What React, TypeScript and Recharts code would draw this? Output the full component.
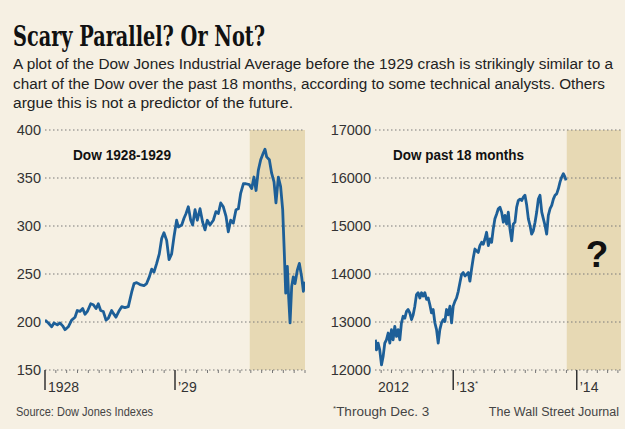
import { CartesianGrid, Line, LineChart, ReferenceArea, XAxis, YAxis } from 'recharts';

// Dow 1928-1929, months since Jan 1928
const leftMonths = [
  0, 0.31, 0.62, 0.83, 1.14, 1.38, 1.63, 1.85, 2.15, 2.46, 2.77, 2.98, 3.23, 3.48, 3.69, 3.91, 4.22, 4.46,
  4.71, 4.92, 5.14, 5.38, 5.63, 5.85, 6.15, 6.31, 6.55, 6.86, 7.08, 7.38, 7.69, 8.0, 8.22, 8.46, 8.77, 9.14,
  9.38, 9.63, 9.85, 10.06, 10.31, 10.55, 10.77, 10.98, 11.23, 11.45, 11.69, 11.91, 12.15, 12.31, 12.62,
  12.83, 13.02, 13.23, 13.45, 13.63, 13.85, 14.06, 14.31, 14.55, 14.77, 14.98, 15.23, 15.54, 15.78, 16.0,
  16.22, 16.46, 16.71, 16.92, 17.14, 17.38, 17.63, 17.85, 18.06, 18.31, 18.55, 18.86, 19.08, 19.29, 19.48,
  19.69, 19.91, 20.15, 20.31, 20.46, 20.71, 20.92, 21.14, 21.32, 21.54, 21.75, 21.94, 22.09, 22.22, 22.37,
  22.49, 22.62, 22.77, 22.92, 23.08, 23.29, 23.48, 23.69, 23.85, 24.0,
];
const leftValues = [
  202, 199, 195, 199, 197, 199, 196, 192, 195, 202, 205, 212, 211, 214, 208, 211, 219, 218, 214, 219,
  212, 211, 202, 204, 212, 209, 205, 212, 216, 215, 216, 231, 240, 241, 239, 238, 240, 247, 255, 252,
  261, 271, 287, 293, 285, 265, 271, 289, 306, 299, 301, 308, 313, 320, 306, 301, 317, 306, 318, 304,
  296, 306, 301, 306, 315, 313, 324, 320, 310, 294, 306, 303, 317, 318, 334, 344, 344, 343, 339, 351,
  337, 358, 369, 376, 380, 372, 369, 355, 346, 324, 351, 341, 317, 272, 230, 258, 226, 199, 237, 247,
  240, 254, 261, 247, 232, 242,
];

// Dow past 18 months, months since Jan 2012
const rightMonths = [
  4.44, 4.54, 4.7, 4.86, 5.03, 5.19, 5.35, 5.51, 5.68, 5.84, 6.0, 6.16, 6.32, 6.49, 6.65, 6.81, 6.97, 7.13,
  7.3, 7.46, 7.62, 7.78, 7.95, 8.11, 8.27, 8.43, 8.59, 8.76, 8.92, 9.08, 9.24, 9.41, 9.57, 9.73, 9.89,
  10.05, 10.22, 10.38, 10.54, 10.7, 10.86, 11.03, 11.19, 11.35, 11.51, 11.68, 11.84, 12.0, 12.16, 12.32,
  12.49, 12.65, 12.81, 12.97, 13.14, 13.3, 13.46, 13.62, 13.78, 13.95, 14.11, 14.27, 14.43, 14.59, 14.76,
  14.92, 15.08, 15.24, 15.41, 15.57, 15.73, 15.89, 16.05, 16.22, 16.38, 16.54, 16.7, 16.87, 17.03, 17.19,
  17.35, 17.51, 17.68, 17.84, 18.0, 18.16, 18.32, 18.49, 18.65, 18.81, 18.97, 19.14, 19.3, 19.46, 19.62,
  19.78, 19.95, 20.11, 20.27, 20.43, 20.6, 20.76, 20.92, 21.08, 21.24, 21.41, 21.57, 21.73, 21.89, 22.05,
  22.22, 22.38, 22.54, 22.7, 22.86, 22.96,
];
const rightValues = [
  12630, 12420, 12560, 12420, 12105, 12280, 12560, 12630, 12770, 12560, 12840,
  12630, 12910, 12700, 12840, 12630, 12980, 13120, 13080, 13220, 13260,
  13190, 13050, 13150, 13330, 13570, 13610, 13500, 13610, 13540, 13610,
  13470, 13500, 13360, 13190, 13260, 12980, 12840, 12560, 12840, 12980,
  13050, 13010, 13260, 13150, 13330, 12980, 13330, 13430, 13500, 13640,
  13820, 13990, 14030, 13960, 13990, 14030, 13850, 14100, 14340, 14520,
  14480, 14450, 14590, 14660, 14620, 14730, 14870, 14590, 14730, 14660,
  14940, 15150, 15250, 15360, 15390, 15290, 15080, 15220, 15040, 15290,
  14940, 14690, 15040, 15080, 15390, 15530, 15560, 15530, 15600, 15640,
  15430, 15150, 15010, 14830, 14900, 15080, 15290, 15560, 15640, 15290,
  15150, 15010, 14830, 15220, 15360, 15430, 15560, 15640, 15670, 15780,
  15920, 16020, 16090, 16020, 15950,
];

const leftTicksY = [150, 200, 250, 300, 350, 400];
const rightTicksY = [12000, 13000, 14000, 15000, 16000, 17000];
const leftTicksX = Array.from({ length: 25 }, (_, i) => i);
const rightTicksX = [4.4, ...Array.from({ length: 24 }, (_, i) => i + 5)];
const leftYearLabels: Record<number, string> = { 0: '1928', 12: '\u201929' };
const rightYearLabels: Record<number, string> = { 12: '\u201913', 24: '\u201914' };
const rightStartLabel = '2012';

const leftData = leftMonths.map((m, i) => ({ m, v: leftValues[i] }));
const rightData = rightMonths.map((m, i) => ({ m, v: rightValues[i] }));

const BG = '#f6f0e3';
const SHADE = '#e7d9b4';
const BLUE = '#1d5f98';
const SANS = "'Liberation Sans', Arial, sans-serif";
const NARROW = "'Liberation Sans Narrow', 'Liberation Sans', sans-serif";

function MonthTick(props: any) {
  const { x, y, payload, years, startLabel } = props;
  const v = payload.value;
  if (startLabel && v < 5) {
    return (
      <text x={x + 3} y={y + 22} fontSize={14} fill="#333" fontFamily={SANS}>
        {startLabel}
      </text>
    );
  }
  const label = years[v];
  if (label) {
    return (
      <g>
        <line x1={x} x2={x} y1={y} y2={y + 20} stroke="#333" strokeWidth={1.5} />
        <text x={x + 3} y={y + 22} fontSize={14} fill="#333" fontFamily={SANS}>
          {label}
          {v === 12 && startLabel ? (
            <tspan fontSize={8} dy={-6}>
              *
            </tspan>
          ) : null}
        </text>
      </g>
    );
  }
  return <line x1={x} x2={x} y1={y} y2={y + 3} stroke="#777" strokeWidth={1} />;
}

function DowChart(props: any) {
  const { data, xDomain, xTicks, yDomain, yTicks, shadeFrom, yWidth, right, years, startLabel } = props;
  return (
    <LineChart width={315} height={280} data={data} margin={{ top: 10, right, bottom: 0, left: 0 }}>
      <ReferenceArea
        x1={shadeFrom}
        x2={xDomain[1]}
        y1={yDomain[0]}
        y2={yDomain[1]}
        fill={SHADE}
        fillOpacity={1}
        stroke="none"
        zIndex={-200}
        ifOverflow="hidden"
      />
      <CartesianGrid vertical={false} stroke="#7a7a7a" strokeDasharray="1.5 2.5" zIndex={-100} />
      <XAxis
        type="number"
        dataKey="m"
        domain={xDomain}
        ticks={xTicks}
        allowDataOverflow
        axisLine={false}
        tickLine={false}
        tickSize={0}
        tickMargin={0}
        interval={0}
        height={30}
        tick={<MonthTick years={years} startLabel={startLabel} />}
      />
      <YAxis
        type="number"
        domain={yDomain}
        ticks={yTicks}
        width={yWidth}
        axisLine={false}
        tickLine={false}
        tickSize={0}
        tickMargin={4}
        interval={0}
        tick={{ fill: '#333', fontSize: 14.5, fontFamily: SANS }}
      />
      <Line
        type="linear"
        dataKey="v"
        stroke={BLUE}
        strokeWidth={2.8}
        strokeLinejoin="round"
        dot={false}
        isAnimationActive={false}
      />
    </LineChart>
  );
}

export default function App() {
  return (
    <div style={{ position: 'absolute', left: 0, top: 0, width: 625, height: 429, background: BG, overflow: 'hidden' }}>
      <div style={{ position: 'absolute', left: 0, top: 120 }}>
        <DowChart
          data={leftData}
          xDomain={[0, 24]}
          xTicks={leftTicksX}
          yDomain={[150, 400]}
          yTicks={leftTicksY}
          shadeFrom={18.9}
          yWidth={45}
          right={10}
          years={leftYearLabels}
        />
      </div>
      <div style={{ position: 'absolute', left: 310, top: 120 }}>
        <DowChart
          data={rightData}
          xDomain={[4.4, 28.3]}
          xTicks={rightTicksX}
          yDomain={[12000, 17000]}
          yTicks={rightTicksY}
          shadeFrom={23.03}
          yWidth={65}
          right={4}
          years={rightYearLabels}
          startLabel={rightStartLabel}
        />
      </div>
      <svg width={625} height={429} style={{ position: 'absolute', left: 0, top: 0, pointerEvents: 'none' }}>
        <text
          x={13}
          y={46}
          fontSize={28}
          fontWeight="bold"
          fill="#111"
          fontFamily="'DejaVu Serif Condensed', 'DejaVu Serif', serif"
          textLength={252}
          lengthAdjust="spacingAndGlyphs"
        >
          Scary Parallel? Or Not?
        </text>
        <g fontSize={15.5} fill="#222" fontFamily={NARROW}>
          <text x={13} y={69} textLength={600} lengthAdjust="spacingAndGlyphs">
            A plot of the Dow Jones Industrial Average before the 1929 crash is strikingly similar to a
          </text>
          <text x={13} y={89} textLength={592} lengthAdjust="spacingAndGlyphs">
            chart of the Dow over the past 18 months, according to some technical analysts. Others
          </text>
          <text x={13} y={108} textLength={280} lengthAdjust="spacingAndGlyphs">
            argue this is not a predictor of the future.
          </text>
        </g>
        <g fontSize={14.5} fontWeight="bold" fill="#111" fontFamily={NARROW}>
          <text x={73} y={160} textLength={98} lengthAdjust="spacingAndGlyphs">
            Dow 1928-1929
          </text>
          <text x={393} y={160} textLength={131} lengthAdjust="spacingAndGlyphs">
            Dow past 18 months
          </text>
        </g>
        <text x={597} y={267} fontSize={37} fontWeight="bold" fill="#111" fontFamily={SANS} textAnchor="middle">
          ?
        </text>
        <g fontSize={13.5} fill="#444" fontFamily={NARROW}>
          <text x={16} y={416} textLength={137} lengthAdjust="spacingAndGlyphs">
            Source: Dow Jones Indexes
          </text>
          <text x={333} y={416}>
            <tspan fontSize={8} dy={-5}>*</tspan>
            <tspan dy={5}>Through Dec. 3</tspan>
          </text>
        </g>
        <text x={619} y={416} textAnchor="end" fontSize={12.5} fill="#444" fontFamily={SANS}>
          The Wall Street Journal
        </text>
      </svg>
    </div>
  );
}
